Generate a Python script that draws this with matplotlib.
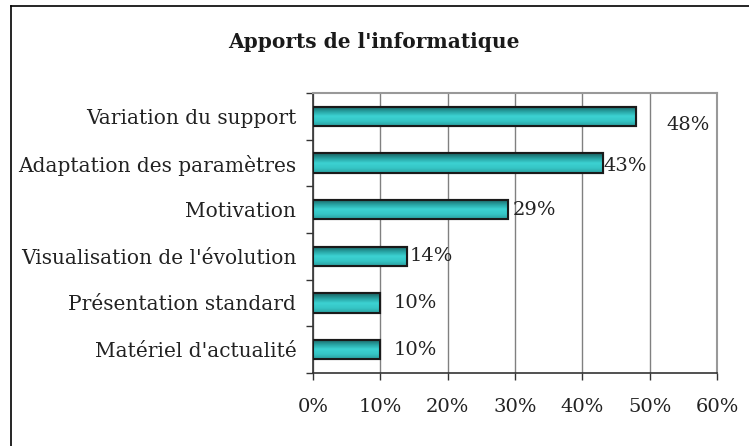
import numpy as np
import matplotlib
matplotlib.use("Agg")
import matplotlib.pyplot as plt
from matplotlib.colors import LinearSegmentedColormap
from matplotlib.lines import Line2D

categories = ["Variation du support", "Adaptation des paramètres", "Motivation",
              "Visualisation de l'évolution", "Présentation standard", "Matériel d'actualité"]
values = [48, 43, 29, 14, 10, 10]
xticks = [0, 10, 20, 30, 40, 50, 60]
xticklabels = ["0%", "10%", "20%", "30%", "40%", "50%", "60%"]
title = "Apports de l'informatique"

plt.rcParams['font.family'] = ['DejaVu Serif']

fig = plt.figure(figsize=(7.49, 4.46), dpi=100)
ax = fig.add_axes([313/749, 1-373/446, (717-313)/749, (373-93)/446])

n = len(categories)
ypos = np.arange(n)
bars = ax.barh(ypos, values, height=0.41, color='#2bb5b5', edgecolor='#1a1a1a',
               linewidth=1.5, zorder=3)

cmap = LinearSegmentedColormap.from_list('teal', ['#1a5f5f', '#269e9e', '#3cd2d2', '#36c6c6', '#2aa0a0'])
grad = np.linspace(0, 1, 64).reshape(-1, 1)
for b in bars:
    x0, y0 = b.get_x(), b.get_y()
    w, h = b.get_width(), b.get_height()
    im = ax.imshow(grad, cmap=cmap, aspect='auto', extent=[x0, x0 + w, y0 + h, y0],
                   zorder=3.5, origin='upper')
    im.set_clip_path(b)
    ax.add_patch(plt.Rectangle((x0, y0), w, h, fill=False, edgecolor='#1a1a1a',
                               linewidth=1.5, zorder=4))

ax.set_xlim(0, 60)
ax.set_ylim(n - 0.5, -0.5)
ax.set_xticks(xticks)
ax.set_xticklabels(xticklabels, fontsize=14, color='#222222')
ax.set_yticks(ypos)
ax.set_yticklabels(categories, fontsize=14.5, color='#222222')
ax.set_yticks(np.arange(n + 1) - 0.5, minor=True)
ax.tick_params(axis='y', which='major', length=0, pad=12)
ax.tick_params(axis='y', which='minor', length=5, width=1, color='#333333', direction='out')
ax.tick_params(axis='x', which='major', length=5, width=1, color='#333333', direction='out', pad=13)

ax.grid(axis='x', color='#808080', linewidth=1, zorder=1)
for s in ['top', 'right']:
    ax.spines[s].set_color('#999999')
    ax.spines[s].set_linewidth(1.5)
for s in ['left', 'bottom']:
    ax.spines[s].set_color('#333333')
    ax.spines[s].set_linewidth(1.2)

# data labels
offsets = [(22, -6.5), (0.5, -2), (3, 0), (2, 0), (9.5, 0), (9.5, 0)]
for yv, v, off in zip(ypos, values, offsets):
    ax.annotate(f"{v}%", xy=(v, yv), xytext=off, textcoords='offset points',
                ha='left', va='center', fontsize=14, color='#222222', zorder=5)

fig.text(374/749, 1-42/446, title, ha='center', va='center', fontsize=14.5, fontweight='bold',
         color='#1a1a1a')

# outer frame (left and top visible)
fig.add_artist(Line2D([11/749, 11/749], [0, 1-6/446], transform=fig.transFigure, color='black', linewidth=1.2))
fig.add_artist(Line2D([11/749, 1], [1-6/446, 1-6/446], transform=fig.transFigure, color='black', linewidth=1.2))

fig.savefig('out.png', dpi=100)
